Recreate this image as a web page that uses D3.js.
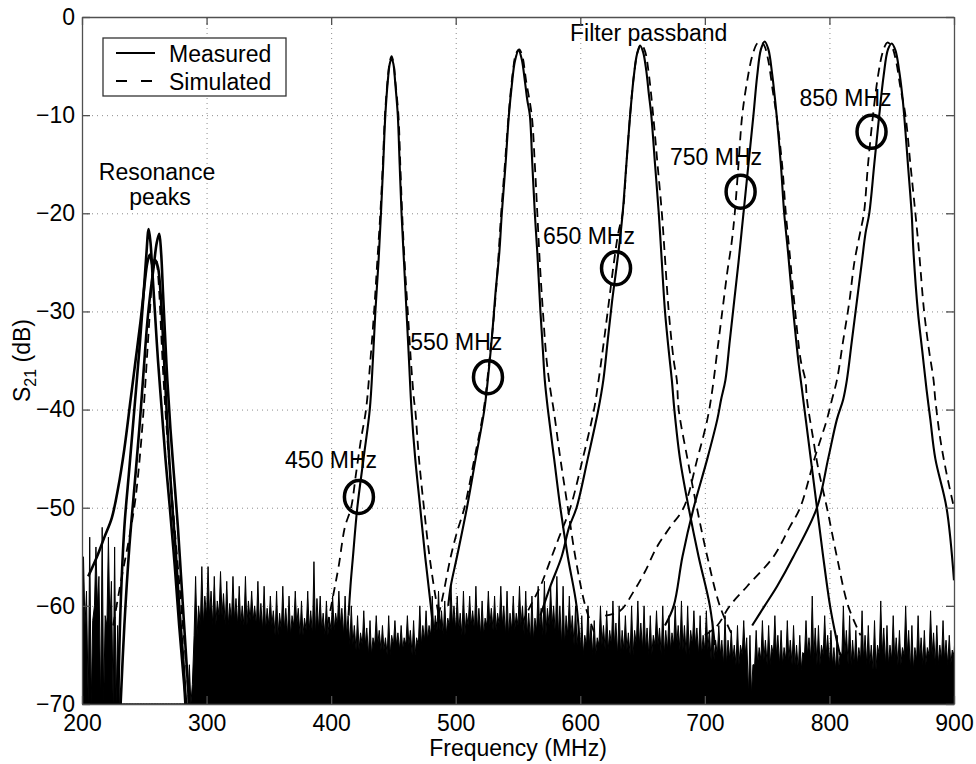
<!DOCTYPE html>
<html>
<head>
<meta charset="utf-8">
<script src="https://cdn.jsdelivr.net/npm/d3@7"></script>
<style>
    html, body { margin: 0; padding: 0; background: #fff; }
    svg { display: block; font-family: "Liberation Sans", Arial, Helvetica, sans-serif; }
    .grid line { stroke: #8c8c8c; stroke-width: 1; stroke-dasharray: 1,4; }
    .grid .domain { display: none; }
    .axis text { font-size: 23px; fill: #000; font-family: "Liberation Sans", Arial, sans-serif; }
    .axis line, .axis path { stroke: #505050; stroke-width: 1.3; }
    .label { font-size: 23px; fill: #000; }
</style>
</head>
<body>
<svg id="chart"></svg>
<script>
const width = 976;
const height = 764;

// 軸
const xTicks = [200, 300, 400, 500, 600, 700, 800, 900];
const yTicks = [0, -10, -20, -30, -40, -50, -60, -70];

// 測定値 (MHz, dB)
const measuredRes1 = [[229,-70],[231,-60],[234,-52],[238,-46],[242,-40],[246,-34],[249,-29],[251.5,-24.5],[253.5,-21.6],[255,-23],[256.5,-26],[258.5,-30],[261,-35],[264,-40],[267,-45],[270.5,-50],[274.5,-56],[278,-62],[282,-68],[283,-70]];
const measuredRes2 = [[231,-70],[234,-62],[238,-54],[242,-48],[246,-42],[249.5,-36],[252.5,-31],[255,-28],[257.5,-25.5],[260,-23],[262,-22.1],[263.5,-24],[265,-28],[266.5,-32],[268.5,-37],[271,-42],[274,-47],[277,-52],[279.5,-57],[282,-62],[284.5,-67],[286,-70]];
const measuredRes3 = [[205,-57],[212,-55],[218,-53],[224,-51],[229,-48],[234,-44],[239,-39],[243,-35],[247,-31],[250,-27.5],[252.5,-25],[254.5,-24.2],[257,-25.5],[259,-24.8],[261,-25.5],[263,-28],[265.5,-34],[267.5,-39],[269.5,-44],[272,-49],[275,-54],[278,-60],[281,-65],[283.5,-70]];
const measured450 = [[414,-61],[415.5,-58],[417.5,-55],[421,-50],[426,-45],[431,-40],[433.5,-35],[435.5,-30],[438,-25],[440,-20],[441.8,-15],[443.5,-10],[445.5,-6.5],[447,-4.8],[448.5,-4.2],[450,-4.8],[451.5,-6.8],[453.5,-10],[455,-15],[456.5,-20],[458.5,-25],[460.5,-30],[462.5,-35],[464.5,-40],[467.5,-45],[471.5,-50],[475.5,-55],[480,-60],[483,-64]];
const measured550 = [[494,-60],[496,-58],[501,-55],[509,-50],[516,-45],[523,-40],[526,-36.7],[529.5,-32],[532,-28],[535,-24],[537,-20],[540,-15],[542.7,-10],[545,-7],[547.5,-4.5],[550.5,-3.4],[553,-4.3],[555.5,-6.5],[557.5,-8.5],[559.5,-10],[561.5,-15],[563.5,-20],[565.5,-24],[568,-30],[570,-34],[571.5,-37],[574,-40],[579,-45],[584,-50],[590,-55],[597,-60],[600,-65]];
const measured650 = [[568,-61],[576,-58],[585,-55],[591,-52],[597,-50],[606,-45],[614.5,-40],[618.5,-37],[622,-33],[625.5,-29],[629,-25.6],[631.5,-23],[634,-20],[637,-15],[640,-10],[643,-6],[645.5,-3.8],[648,-2.9],[650.5,-3.6],[653,-5.5],[655,-7.8],[657,-10],[660,-15],[663,-20],[665,-24],[668,-30],[671,-34],[673.5,-37],[675.5,-40],[680,-45],[687,-50],[695,-55],[704,-60],[708,-64]];
const measured750 = [[668,-62],[675,-60],[682,-55],[691,-50],[702,-45],[710,-41],[713,-39],[716.5,-37],[720,-33],[723.5,-29],[727,-25],[729,-22.5],[731,-20],[735,-15],[739,-10],[742,-6],[745,-3.3],[748,-2.5],[751,-3.3],[754,-5.8],[756,-8],[757.6,-10],[761,-15],[763.7,-20],[766.8,-24],[771,-30],[775,-35],[778,-38],[780,-40],[785,-45],[790,-50],[795,-55],[800.5,-60],[805,-63],[808.5,-65]];
const measured850 = [[738,-62],[748,-60],[758,-58],[771,-55],[790,-50],[799,-45],[806,-41],[811,-39],[814,-37],[818,-33],[822,-29],[826,-25],[829,-22],[832,-20],[836,-15],[840,-10],[843.5,-6],[847,-3.3],[850,-2.7],[853,-3.4],[856,-5.5],[858.5,-8],[860,-10],[863,-15],[866,-20],[867.5,-24],[871,-30],[874.5,-34],[878,-38],[881,-41],[885,-45],[894,-50],[900,-57.4]];

// シミュレーション値 (MHz, dB)
const simulatedRes = [[225,-62],[232,-57],[238,-53],[243,-49],[247,-44],[250,-39],[252.5,-34],[254.5,-30],[256,-27],[257.5,-25],[259,-24.5],[260.5,-25.5],[262,-28],[263.5,-32],[265.5,-37],[268,-42],[271,-47],[275,-53],[279,-59],[283,-65],[286,-70]];
const simulated450 = [[392,-65],[397,-62],[402,-58.7],[406,-56],[411,-52],[416,-50],[420,-46.5],[424,-43],[428,-40],[431.5,-35],[434.5,-30],[437,-25],[439.5,-20],[441.5,-15],[443.2,-10],[445.5,-6.2],[447,-4.6],[448.5,-4],[450,-4.6],[451.5,-6.5],[454,-10],[455.5,-15],[457,-20],[459,-25],[461.5,-30],[464,-35],[466.5,-39],[467.5,-40],[470.5,-45],[474.5,-50],[479,-55],[485,-60],[491,-64]];
const simulated550 = [[480,-64],[488,-60],[496,-55],[501,-52.5],[507,-50],[515,-45],[522.5,-40],[527,-35],[531,-30],[534,-25],[536.5,-20],[539.5,-15],[542.5,-10],[545.5,-6],[548.5,-3.7],[551,-3.3],[553.5,-4],[556.5,-6.5],[561,-10],[563.5,-15],[565.5,-20],[567.5,-25],[570,-30],[573,-35],[576,-38],[578.6,-40],[584,-45],[590,-50],[596,-55],[604,-60],[612,-63]];
const simulated650 = [[545,-63],[552,-62],[560,-60],[568,-58],[577,-55],[583,-53],[592,-50],[602,-45],[611,-40],[614.7,-37],[619,-33],[623,-29],[627,-25],[630.5,-22],[634,-20],[637,-15],[640,-10],[643,-6],[646,-3.6],[649,-2.8],[652,-3.5],[655,-5.8],[658.5,-10],[662,-15],[665.5,-20],[667.7,-24],[671,-30],[675,-35],[677.5,-37],[679,-40],[686,-45],[693.6,-50],[702,-55],[712,-60],[722,-63]];
const simulated750 = [[620,-61],[632,-60.5],[643,-58.5],[652,-56.5],[661.5,-54],[672,-52],[683,-50],[694,-45],[702,-41],[706,-38],[710,-34],[714,-30],[718,-26],[721.5,-23],[724,-20],[727,-15],[730,-10],[734,-6.5],[738,-4],[742,-2.7],[745,-2.5],[748,-3],[751,-4.5],[754.5,-7.5],[757.5,-10],[762,-15],[765,-20],[768,-24],[772.5,-30],[777,-35],[780.7,-37],[782,-39],[787,-43],[791,-46],[798,-50],[806,-55],[815,-60],[825,-63]];
const simulated850 = [[700,-63],[710,-62],[720,-60],[734,-58],[755,-55],[768,-52],[776.5,-50],[788,-45],[798,-41],[802,-39],[806,-37],[811,-33],[816,-29],[820,-25],[825,-21.75],[827.7,-20],[831,-15],[835,-10],[839,-6],[843,-3.5],[846.5,-2.6],[850,-3],[853.5,-4.5],[857,-7.2],[861,-10],[865,-15],[869,-20],[872,-24],[876,-30],[880,-34],[883.6,-37],[885,-39],[889,-43],[894,-46.5],[900,-50]];

// ノイズフロア (200 MHz から 5 MHz 刻み、スパイク先端と底)
const noiseStart = 200;
const noiseStep = 5;
const noiseHi = [
    -55, -53, -54, -52, -53, -54, -70, -70, -70, -70,
    -70, -70, -70, -70, -70, -70, -70, -66, -57, -56,
    -56, -57, -56.5, -57.5, -57, -58, -57, -58.5, -57.5, -58,
    -59, -58.5, -58, -59, -58.5, -59.5, -58.5, -55.5, -59, -59.5,
    -59, -58.5, -59, -60, -61, -60.5, -61.5, -61, -62, -61,
    -61.5, -62, -61, -61.5, -60, -60.5, -59, -58.5, -59.5, -58,
    -59, -58.5, -59, -58, -59.5, -58.5, -59, -58, -58.5, -59,
    -58, -58.5, -59, -58, -57.5, -58, -57, -58, -59, -60,
    -61, -60, -61.5, -60, -60.5, -59.5, -60, -61, -60, -59.5,
    -60, -61, -60.5, -60, -61, -60, -59.5, -60, -60.5, -61,
    -60.5, -61.5, -62, -61, -62.5, -62, -61.5, -63, -62.5, -61.5,
    -62, -61, -62.5, -61.5, -62, -63, -61.5, -59, -62, -61,
    -62.5, -63, -60, -61, -62.5, -60.5, -62, -61.5, -59.5, -62,
    -61, -62.5, -60, -62, -61, -62.5, -60.5, -62, -61.5, -63,
    -62
];
const noiseLo = [
    -62, -70, -60, -70, -62, -70, -70, -70, -70, -70,
    -70, -70, -70, -70, -70, -70, -70, -70, -63, -62,
    -61, -62, -61, -62, -61.5, -62, -62, -61.5, -62, -62.5,
    -62, -63, -62.5, -63, -62, -63, -62.5, -63, -62.5, -63,
    -62.5, -62, -63, -64, -64.5, -64, -65, -64, -64.5, -65,
    -64, -64.5, -64, -65, -64, -63.5, -63, -62.5, -63, -62,
    -62.5, -63, -62, -62.5, -63, -62, -62.5, -62, -63, -62.5,
    -62, -63, -63.5, -62.5, -63, -62, -63, -64, -63, -64,
    -65, -64, -65, -64, -64.5, -64, -65, -64.5, -65, -64,
    -64.5, -65, -64, -65, -64.5, -64, -64.5, -65, -64, -65,
    -64.5, -65.5, -65, -66, -65.5, -66, -65, -69, -66, -65.5,
    -66, -65, -66, -65.5, -66, -66.5, -65, -65.5, -66, -65,
    -66, -66.5, -65, -66, -66, -65.5, -66, -66.5, -65, -66,
    -65.5, -66, -65, -66.5, -65.5, -66, -65, -66, -65.5, -66,
    -65
];

// 注釈の丸
const markerFreq = [422.3, 525.9, 628.7, 728.7, 833.8];
const markerDb = [-48.9, -36.7, -25.6, -17.8, -11.7];
const markerLabels = ['450 MHz', '550 MHz', '650 MHz', '750 MHz', '850 MHz'];
const markerLabelFreq = [363, 463.5, 570, 672, 776];
const markerLabelDb = [-46, -33.9, -23.1, -15.1, -9.1];

const measuredSeries = [measuredRes3, measuredRes1, measuredRes2, measured450, measured550, measured650, measured750, measured850];
const simulatedSeries = [simulatedRes, simulated450, simulated550, simulated650, simulated750, simulated850];

const svg = d3.select('#chart')
    .attr('width', width)
    .attr('height', height);

const x = d3.scaleLinear().domain([200, 900]).range([82, 954]);
const y = d3.scaleLinear().domain([-70, 0]).range([704, 17]);

const plotW = x(900) - x(200);
const plotH = y(-70) - y(0);

svg.append('defs').append('clipPath')
    .attr('id', 'plot-clip')
    .append('rect')
    .attr('x', x(200))
    .attr('y', y(0))
    .attr('width', plotW)
    .attr('height', plotH);

// グリッド
svg.append('g')
    .attr('class', 'grid')
    .attr('transform', 'translate(0,' + y(-70) + ')')
    .call(d3.axisBottom(x).tickValues(xTicks.slice(1, -1)).tickSize(-plotH).tickFormat(''));
svg.append('g')
    .attr('class', 'grid')
    .attr('transform', 'translate(' + x(200) + ',0)')
    .call(d3.axisLeft(y).tickValues(yTicks.slice(1, -1)).tickSize(-plotW).tickFormat(''));

const plot = svg.append('g').attr('clip-path', 'url(#plot-clip)');

// ノイズ: 底の上に細いスパイク
const noisePoints = [];
noiseHi.forEach((v, i) => {
    const f = noiseStart + i * noiseStep;
    noisePoints.push([f, noiseLo[i]]);
    noisePoints.push([f + 1.2, v]);
    noisePoints.push([f + 2.4, noiseLo[i]]);
    noisePoints.push([f + 3.6, (v + noiseLo[i]) / 2]);
});
plot.append('path')
    .datum(noisePoints)
    .attr('fill', '#000')
    .attr('stroke', '#000')
    .attr('stroke-width', 1)
    .attr('d', d3.area()
        .x(d => x(d[0]))
        .y0(y(-70))
        .y1(d => y(d[1])));

const line = d3.line()
    .x(d => x(d[0]))
    .y(d => y(d[1]))
    .curve(d3.curveCatmullRom.alpha(0.5));

plot.selectAll('.sim')
    .data(simulatedSeries)
    .join('path')
    .attr('class', 'sim')
    .attr('fill', 'none')
    .attr('stroke', '#000')
    .attr('stroke-width', 1.8)
    .attr('stroke-dasharray', '9,6')
    .attr('d', line);

plot.selectAll('.meas')
    .data(measuredSeries)
    .join('path')
    .attr('class', 'meas')
    .attr('fill', 'none')
    .attr('stroke', '#000')
    .attr('stroke-width', (d, i) => i < 3 ? 2.6 : 2.1)
    .attr('d', line);

// 丸とラベル
plot.selectAll('.marker')
    .data(markerFreq)
    .join('ellipse')
    .attr('class', 'marker')
    .attr('cx', d => x(d))
    .attr('cy', (d, i) => y(markerDb[i]))
    .attr('rx', 14.5)
    .attr('ry', 16.5)
    .attr('fill', 'none')
    .attr('stroke', '#000')
    .attr('stroke-width', 3.5);

svg.selectAll('.marker-label')
    .data(markerLabels)
    .join('text')
    .attr('class', 'label marker-label')
    .attr('x', (d, i) => x(markerLabelFreq[i]))
    .attr('y', (d, i) => y(markerLabelDb[i]))
    .text(d => d);

svg.append('text')
    .attr('class', 'label')
    .attr('x', x(654.9))
    .attr('y', y(-2.4))
    .attr('text-anchor', 'middle')
    .text('Filter passband');

const resText = svg.append('text')
    .attr('class', 'label')
    .attr('text-anchor', 'middle');
resText.append('tspan').attr('x', 157).attr('y', 180).text('Resonance');
resText.append('tspan').attr('x', 160).attr('y', 205).text('peaks');

// 軸
svg.append('g')
    .attr('class', 'axis')
    .attr('transform', 'translate(0,' + y(-70) + ')')
    .call(d3.axisBottom(x).tickValues(xTicks).tickSize(-8).tickSizeOuter(0).tickPadding(11));
svg.append('g')
    .attr('class', 'axis')
    .attr('transform', 'translate(0,' + y(0) + ')')
    .call(d3.axisTop(x).tickValues(xTicks).tickSize(-8).tickSizeOuter(0).tickFormat(''));
svg.append('g')
    .attr('class', 'axis')
    .attr('transform', 'translate(' + x(200) + ',0)')
    .call(d3.axisLeft(y).tickValues(yTicks).tickSize(-8).tickSizeOuter(0).tickPadding(7));
svg.append('g')
    .attr('class', 'axis')
    .attr('transform', 'translate(' + x(900) + ',0)')
    .call(d3.axisRight(y).tickValues(yTicks).tickSize(-8).tickSizeOuter(0).tickFormat(''));

svg.append('text')
    .attr('class', 'label')
    .attr('x', (x(200) + x(900)) / 2)
    .attr('y', 756)
    .attr('text-anchor', 'middle')
    .text('Frequency (MHz)');

const yLabel = svg.append('text')
    .attr('class', 'label')
    .attr('text-anchor', 'middle')
    .attr('transform', 'translate(30,' + (y(0) + y(-70)) / 2 + ') rotate(-90)');
yLabel.append('tspan').text('S');
yLabel.append('tspan').attr('font-size', 16).attr('dy', 6).text('21');
yLabel.append('tspan').attr('dy', -6).text(' (dB)');

// 凡例
const legend = svg.append('g').attr('transform', 'translate(103,38)');
legend.append('rect')
    .attr('width', 183)
    .attr('height', 58)
    .attr('fill', '#fff')
    .attr('stroke', '#333')
    .attr('stroke-width', 1.3);
legend.append('line')
    .attr('x1', 13).attr('x2', 52)
    .attr('y1', 15).attr('y2', 15)
    .attr('stroke', '#000')
    .attr('stroke-width', 2);
legend.append('line')
    .attr('x1', 13).attr('x2', 52)
    .attr('y1', 43).attr('y2', 43)
    .attr('stroke', '#000')
    .attr('stroke-width', 2)
    .attr('stroke-dasharray', '11,14');
legend.append('text').attr('class', 'label').attr('x', 66).attr('y', 24).text('Measured');
legend.append('text').attr('class', 'label').attr('x', 66).attr('y', 52).text('Simulated');
</script>
</body>
</html>
